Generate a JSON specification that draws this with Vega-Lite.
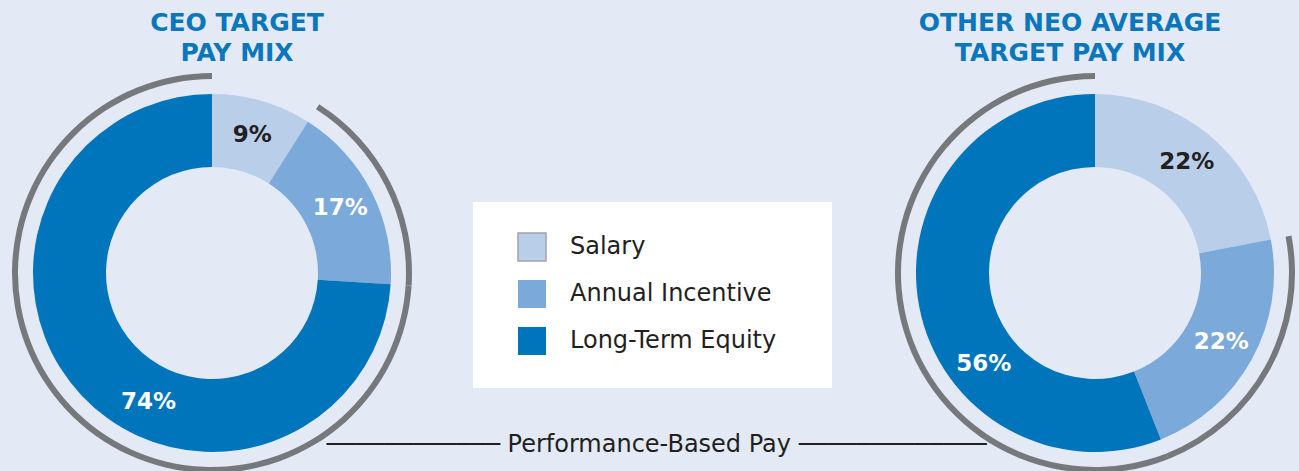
{
  "$schema": "https://vega.github.io/schema/vega-lite/v6.json",
  "background": "#e3eaf5",
  "padding": {"top": 11, "left": 0, "right": 0, "bottom": 0},
  "autosize": {"type": "pad"},
  "bounds": "flush",
  "spacing": 0,
  "config": {"view": {"stroke": null}, "font": "DejaVu Sans"},
  "resolve": {"scale": {"color": "shared"}, "legend": {"color": "shared"}},
  "datasets": {
    "ceo": [
      {"component": "Salary", "share": 0.09, "k": 1},
      {"component": "Annual Incentive", "share": 0.17, "k": 2},
      {"component": "Long-Term Equity", "share": 0.74, "k": 3}
    ],
    "neo": [
      {"component": "Salary", "share": 0.22, "k": 1},
      {"component": "Annual Incentive", "share": 0.22, "k": 2},
      {"component": "Long-Term Equity", "share": 0.56, "k": 3}
    ]
  },
  "hconcat": [
    {
      "width": 424,
      "height": 396,
      "title": {"text": ["CEO TARGET", "PAY MIX"], "fontSize": 25, "font": "DejaVu Sans", "fontWeight": "bold", "color": "#0a76bc", "lineHeight": 30, "anchor": "middle", "dx": 25, "offset": 7},
      "data": {"name": "ceo"},
      "encoding": {
        "theta": {"field": "share", "type": "quantitative", "stack": true},
        "order": {"field": "k", "type": "quantitative"}
      },
      "layer": [
        {
          "mark": {"type": "arc", "radius": 200, "radius2": 194},
          "encoding": {"fill": {"condition": {"test": "datum.component === 'Salary'", "value": "transparent"}, "value": "#77787b"}}
        },
        {
          "mark": {"type": "arc", "radius": 179, "radius2": 106},
          "encoding": {
            "color": {
              "field": "component", "type": "nominal",
              "scale": {"domain": ["Salary", "Annual Incentive", "Long-Term Equity"], "range": ["#b9cee9", "#7ba9d9", "#0075bc"]},
              "legend": {"title": null, "orient": "none", "legendX": 473, "legendY": 127, "direction": "vertical", "fillColor": "#ffffff", "padding": 30, "symbolType": "square", "symbolSize": 784, "symbolOffset": 14, "labelOffset": 23, "labelFontSize": 24, "labelFont": "DejaVu Sans", "labelColor": "#231f20", "rowPadding": 13, "labelLimit": 400, "labelExpr": "datum.label + '\u00a0\u2800'", "symbolOpacity": 1,
                "encode": {"symbols": {"update": {"stroke": {"signal": "datum.value === 'Salary' ? '#a0a5ab' : 'transparent'"}, "strokeWidth": {"value": 1.5}}}}}
            }
          }
        },
        {
          "mark": {"type": "text", "radius": 144, "font": "DejaVu Sans", "fontWeight": "bold", "fontSize": 23, "align": "center", "baseline": "middle"},
          "encoding": {
            "text": {"condition": {"test": "datum.component !== 'Long-Term Equity'", "field": "share", "type": "quantitative", "format": ".0%"}, "value": ""},
            "fill": {"condition": {"test": "datum.component === 'Salary'", "value": "#231f20"}, "value": "#ffffff"}
          }
        },
        {
          "mark": {"type": "text", "radius": 144, "thetaOffset": -0.36, "font": "DejaVu Sans", "fontWeight": "bold", "fontSize": 23, "align": "center", "baseline": "middle"},
          "encoding": {
            "text": {"condition": {"test": "datum.component === 'Long-Term Equity'", "field": "share", "type": "quantitative", "format": ".0%"}, "value": ""},
            "fill": {"value": "#ffffff"}
          }
        }
      ]
    },
    {
      "width": 467,
      "height": 356,
      "title": {"text": "──────────── Performance-Based Pay ─────────────", "orient": "bottom", "fontSize": 24, "font": "DejaVu Sans", "fontWeight": "normal", "color": "#231f20", "anchor": "middle", "offset": 2, "dx": -1},
      "data": {"values": [{}]},
      "mark": {"type": "point", "opacity": 0}
    },
    {
      "width": 408,
      "height": 396,
      "title": {"text": ["OTHER NEO AVERAGE", "TARGET PAY MIX"], "fontSize": 25, "font": "DejaVu Sans", "fontWeight": "bold", "color": "#0a76bc", "lineHeight": 30, "anchor": "middle", "dx": -25, "offset": 7},
      "data": {"name": "neo"},
      "encoding": {
        "theta": {"field": "share", "type": "quantitative", "stack": true},
        "order": {"field": "k", "type": "quantitative"}
      },
      "layer": [
        {
          "mark": {"type": "arc", "radius": 200, "radius2": 194},
          "encoding": {"fill": {"condition": {"test": "datum.component === 'Salary'", "value": "transparent"}, "value": "#77787b"}}
        },
        {
          "mark": {"type": "arc", "radius": 179, "radius2": 106},
          "encoding": {
            "color": {
              "field": "component", "type": "nominal",
              "scale": {"domain": ["Salary", "Annual Incentive", "Long-Term Equity"], "range": ["#b9cee9", "#7ba9d9", "#0075bc"]},
              "legend": {"title": null, "orient": "none", "legendX": 473, "legendY": 127, "direction": "vertical", "fillColor": "#ffffff", "padding": 30, "symbolType": "square", "symbolSize": 784, "symbolOffset": 14, "labelOffset": 23, "labelFontSize": 24, "labelFont": "DejaVu Sans", "labelColor": "#231f20", "rowPadding": 13, "labelLimit": 400, "labelExpr": "datum.label + '\u00a0\u2800'", "symbolOpacity": 1,
                "encode": {"symbols": {"update": {"stroke": {"signal": "datum.value === 'Salary' ? '#a0a5ab' : 'transparent'"}, "strokeWidth": {"value": 1.5}}}}}
            }
          }
        },
        {
          "mark": {"type": "text", "radius": 144, "font": "DejaVu Sans", "fontWeight": "bold", "fontSize": 23, "align": "center", "baseline": "middle"},
          "encoding": {
            "text": {"condition": {"test": "datum.component !== 'Long-Term Equity'", "field": "share", "type": "quantitative", "format": ".0%"}, "value": ""},
            "fill": {"condition": {"test": "datum.component === 'Salary'", "value": "#231f20"}, "value": "#ffffff"}
          }
        },
        {
          "mark": {"type": "text", "radius": 144, "thetaOffset": -0.5, "font": "DejaVu Sans", "fontWeight": "bold", "fontSize": 23, "align": "center", "baseline": "middle"},
          "encoding": {
            "text": {"condition": {"test": "datum.component === 'Long-Term Equity'", "field": "share", "type": "quantitative", "format": ".0%"}, "value": ""},
            "fill": {"value": "#ffffff"}
          }
        }
      ]
    }
  ]
}
